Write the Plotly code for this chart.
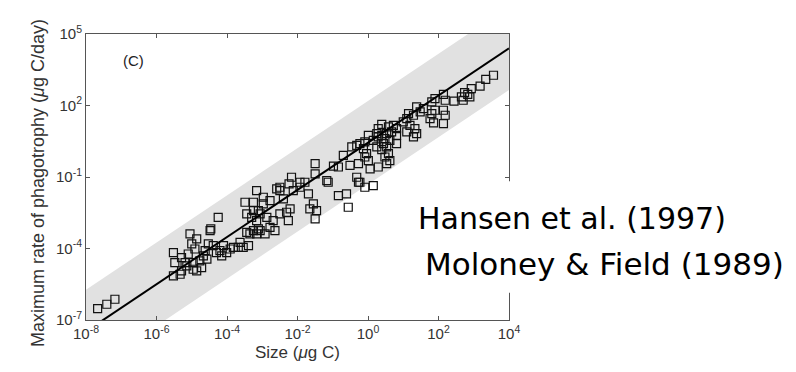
import numpy as np
import plotly.graph_objects as go

# ---- data (log10 values) ----
size_log10 = [
    -7.67, -7.41, -7.18,
    -5.52, -5.48, -5.52, -5.33, -5.29, -5.19, -5.29, -5.10, -5.05, -4.86, -5.00, -4.91,
    -4.96, -4.86, -4.77, -4.67, -4.62, -4.53, -4.48, -4.46, -4.39, -4.25, -4.20, -4.15,
    -4.01, -3.91, -3.82, -3.68, -3.54, -3.44, -3.35, -3.25, -3.11, -3.49, -3.25, -3.11,
    -3.44, -3.30, -3.16, -4.96, -5.14, -4.72, -4.57, -4.30, -4.10, -3.63, -3.39,
    -3.16, -2.97, -2.78, -2.97, -3.25, -3.06, -2.87, -2.69, -2.50, -2.31, -2.21, -2.40,
    -2.50, -2.12, -1.93, -1.79, -1.69, -1.55, -1.46, -1.65, -1.50, -2.26, -2.78, -3.06,
    -3.16, -2.92, -2.64, -1.13, -0.61, -0.84, -0.56, -0.09, -0.23,
    3.56, 3.34, 3.18, 2.93, 2.83, 2.74, 2.65, 2.89, 2.70, 2.44,
    2.14, 1.90, 1.81, 2.19, 2.14, 2.19, 1.90, 1.81, 1.76, 1.86, 2.14,
    1.57, 1.38, 1.48, 1.29, 1.15, 1.10, 1.00, 1.19, 1.33, 1.38, 1.29, 1.10,
    0.81, 0.72, 0.58, 0.39, 0.29, 0.25, 0.39, 0.48, 0.62, 0.44, 0.53, 0.39, 0.25, 0.15,
    0.29, 0.53, 0.67, 0.81, 0.81, 0.58, 0.48, 0.62, 0.53, 0.29, 0.06, -0.04, -0.09, 0.01,
    0.01, -0.09, -0.23, -0.32, -0.46, -0.13, -0.27, -0.51, -0.32, -0.27, 0.15,
    -0.70, -0.84, -0.98, -1.17, -1.50, -1.50, -1.93, -2.17, -2.24, -2.50, -2.59,
]
rate_log10 = [
    -6.52, -6.34, -6.13,
    -4.17, -4.59, -5.15, -5.08, -4.94, -4.59, -4.38, -4.23, -3.39, -3.60, -3.81, -4.02,
    -4.87, -4.94, -4.52, -4.31, -4.09, -3.81, -3.25, -3.18, -3.88, -2.69, -4.09, -4.31,
    -4.17, -4.02, -3.95, -3.95, -3.95, -3.32, -3.39, -3.25, -3.18, -2.06, -2.06, -2.41,
    -2.55, -2.69, -2.83, -4.59, -4.73, -4.80, -4.45, -4.17, -3.88, -3.74, -3.88,
    -1.57, -1.85, -1.99, -2.13, -2.41, -2.55, -2.69, -2.83, -2.55, -2.48, -2.34, -1.92,
    -1.57, -1.57, -1.43, -1.22, -1.71, -2.13, -2.41, -2.34, -2.76, -2.83, -3.11, -3.25,
    -3.39, -3.39, -3.25, -1.22, -1.71, -1.78, -2.27, -1.43, -1.22,
    3.27, 3.10, 2.81, 2.71, 2.47, 2.54, 2.36, 2.36, 2.22, 2.18,
    2.47, 2.29, 2.15, 2.22, 1.80, 1.59, 1.80, 1.66, 1.45, 1.27, 1.24,
    1.87, 1.94, 1.73, 1.59, 1.66, 1.45, 1.31, 1.17, 1.03, 0.82, 0.68, 0.89,
    1.03, 1.17, 1.10, 1.21, 1.03, 0.82, 0.75, 0.61, 0.54, 0.40, 0.26, 0.15, 0.26, 0.54,
    0.68, 0.82, 0.89, 0.75, 0.40, -0.02, -0.16, -0.31, -0.44, -0.58, -0.66, -0.02, -0.16, -0.31,
    0.75, 0.47, 0.40, 0.33, 0.26, 0.19, -0.44, -0.51, -1.01, -1.22, -1.36,
    -0.09, -0.58, -0.54, -1.15, -0.44, -0.87, -1.22, -1.01, -1.29, -1.43, -1.50,
]
fit_intercept = 0.44      # log10 rate at size 1
fit_slope = 0.99
band_halfwidth = 1.75     # decades
x_tick_exps = [-8, -6, -4, -2, 0, 2, 4]
y_tick_exps = [-7, -4, -1, 2, 5]

size = 10 ** np.array(size_log10)
rate = 10 ** np.array(rate_log10)
fit_x_log = np.array([-8.0, 4.0])
fit_y_log = fit_intercept + fit_slope * fit_x_log
fit_x = 10 ** fit_x_log

fig = go.Figure()
fig.add_trace(go.Scatter(x=fit_x, y=10 ** (fit_y_log - band_halfwidth), mode="lines",
                         line=dict(width=0), hoverinfo="skip", showlegend=False))
fig.add_trace(go.Scatter(x=fit_x, y=10 ** (fit_y_log + band_halfwidth), mode="lines",
                         line=dict(width=0), fill="tonexty", fillcolor="#e1e1e1",
                         hoverinfo="skip", showlegend=False))
fig.add_trace(go.Scatter(x=size, y=rate, mode="markers", showlegend=False,
                         marker=dict(symbol="square-open", size=8, color="#111111",
                                     line=dict(width=1.2))))
fig.add_trace(go.Scatter(x=fit_x, y=10 ** fit_y_log, mode="lines", showlegend=False,
                         line=dict(color="black", width=2)))

sans = "Liberation Sans, Arial"
tick_font = dict(family=sans, size=15, color="#333333")
axis_common = dict(type="log", showgrid=False, zeroline=False, showline=True,
                   linecolor="#555555", linewidth=1, mirror="ticks", ticks="inside",
                   ticklen=4, tickcolor="#555555", tickfont=tick_font)
fig.update_xaxes(range=[-8, 4], tickvals=[10.0 ** e for e in x_tick_exps],
                 ticktext=[f"10<sup>{e}</sup>" for e in x_tick_exps], **axis_common)
fig.update_yaxes(range=[-7, 5], tickvals=[10.0 ** e for e in y_tick_exps],
                 ticktext=[f"10<sup>{e}</sup>" for e in y_tick_exps], **axis_common)

fig.update_layout(
    width=796, height=372,
    margin=dict(l=86, r=287, t=34, b=52),
    paper_bgcolor="white", plot_bgcolor="white",
    shapes=[dict(type="rect", xref="paper", yref="paper", x0=0.766, x1=1.8,
                 y0=0.095, y1=0.485, fillcolor="white", line=dict(width=0), layer="above")],
    annotations=[
        dict(text="(C)", xref="paper", yref="paper", x=0.083, y=0.945, showarrow=False,
             font=dict(family=sans, size=15, color="#222")),
        dict(text="Maximum rate of phagotrophy (<i>μ</i>g C/day)", xref="paper", yref="paper",
             x=0, y=0.5, xshift=-60, yshift=-6, textangle=-90, showarrow=False,
             font=dict(family=sans, size=18, color="#333")),
        dict(text="Size (<i>μ</i>g C)", xref="paper", yref="paper", x=0.5, y=0,
             yshift=-44, showarrow=False,
             font=dict(family=sans, size=17, color="#333")),
        dict(text="Hansen et al. (1997)", xref="paper", yref="paper", x=0.78, y=0.355,
             xanchor="left", yanchor="middle", showarrow=False,
             font=dict(family="DejaVu Sans, Verdana", size=30, color="black")),
        dict(text="Moloney &amp; Field (1989)", xref="paper", yref="paper", x=0.796, y=0.195,
             xanchor="left", yanchor="middle", showarrow=False,
             font=dict(family="DejaVu Sans, Verdana", size=31, color="black")),
    ],
)
fig.write_html("out.html")
